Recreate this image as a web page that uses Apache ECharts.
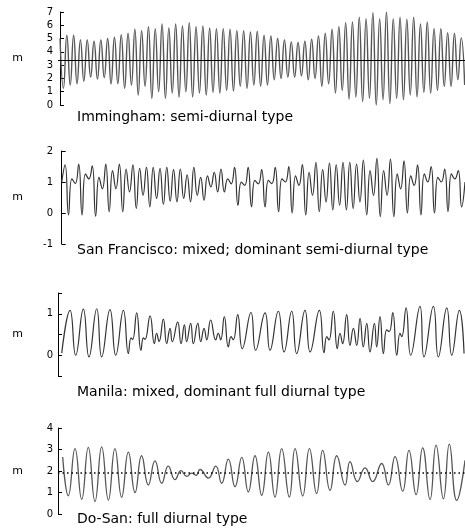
<!DOCTYPE html>
<html><head><meta charset="utf-8">
<script src="https://cdn.jsdelivr.net/npm/echarts@6/dist/echarts.min.js"></script>
<style>html,body{margin:0;padding:0;background:#fff}#c{width:465px;height:530px}</style>
</head><body><div id="c"></div>
<script>
// Immingham: successive high and low waters (m)
const imPeaks = [5.0,5.25,5.25,4.9,4.9,4.8,4.9,5.0,5.1,5.3,5.4,5.7,5.6,5.9,5.75,6.1,5.8,6.1,5.95,6.2,5.9,5.95,5.8,5.75,5.75,5.7,5.6,5.6,5.5,5.55,
  5.25,5.2,5.0,4.9,4.75,4.7,4.8,4.95,5.2,5.4,5.7,5.9,6.2,6.25,6.6,6.5,6.95,6.5,7.0,6.5,6.6,6.45,6.6,6.1,6.25,5.75,5.75,5.45,5.4,5.05];
const imTroughs = [1.25,1.5,1.6,1.8,2.1,1.95,2.05,1.6,1.6,1.25,1.5,0.75,1.4,0.5,1.0,0.5,0.9,0.6,1.0,0.6,0.9,0.75,0.95,0.9,1.1,1.05,1.4,1.25,1.5,1.4,
  1.5,1.9,2.0,2.1,2.1,2.2,1.9,2.0,1.4,1.6,0.9,1.1,0.45,0.6,0.25,0.5,0.0,0.4,0.1,0.5,0.4,0.75,0.6,0.95,0.9,1.1,1.4,1.4,1.9,1.5];
const imMean = 3.4;

// San Francisco: successive turning points (m)
const sfLevels = [1.0,
  1.55,-0.06,1.1,0.95,1.58,-0.06,1.26,1.1,1.52,-0.1,1.15,0.78,1.58,0.04,1.37,0.78,1.58,0.04,1.42,0.68,
  1.55,0.15,1.44,0.57,1.47,0.2,1.47,0.47,1.44,0.28,1.47,0.38,1.4,0.36,1.42,0.47,1.23,0.36,1.47,0.57,
  1.15,0.41,1.2,0.84,1.31,0.68,1.42,0.68,1.1,0.94,1.47,0.25,1.0,0.89,1.47,0.2,1.05,0.94,1.4,0.2,
  1.05,0.95,1.47,0.04,1.1,1.0,1.5,0.0,1.2,0.89,1.56,-0.06,1.31,0.57,1.63,0.04,1.4,0.36,1.61,0.1,
  1.55,0.25,1.63,0.1,1.63,0.15,1.58,0.36,1.71,-0.06,1.37,0.57,1.76,-0.12,1.37,0.57,1.74,-0.12,1.26,0.78,
  1.68,0.0,1.2,0.89,1.55,-0.06,1.26,1.0,1.5,0.0,1.15,1.0,1.42,0.04,1.26,1.1,1.37,0.2,
  1.0];

// Manila: time (days) and level (m) of turning points
const mnDays = [0.28,0.90,1.32,1.89,2.31,2.89,3.26,3.88,4.31,4.88,5.25,5.45,5.57,5.87,6.19,6.37,6.49,6.87,7.19,7.36,
  7.54,7.86,8.11,8.36,8.53,8.93,9.18,9.43,9.60,9.90,10.10,10.43,10.65,10.90,11.10,11.39,11.77,11.96,12.14,12.41,
  12.71,12.91,13.08,13.41,13.75,14.40,14.75,15.45,15.82,16.44,16.87,17.44,17.81,18.43,18.81,19.50,19.85,20.05,20.22,20.54,
  20.84,21.04,21.24,21.54,21.79,22.04,22.29,22.54,22.78,23.04,23.28,23.61,23.78,24.03,24.28,24.53,24.72,24.98,25.28,25.52,
  25.65,25.97,26.32,27.01,27.31,28.01,28.38,29.01,29.38,29.95,30.30];
const mnLevels = [0.05,1.08,0.0,1.11,-0.04,1.12,-0.04,1.10,0.0,1.08,0.04,0.42,0.38,1.02,0.12,0.42,0.38,0.95,0.28,0.53,
  0.33,0.87,0.28,0.65,0.33,0.80,0.28,0.73,0.33,0.77,0.28,0.77,0.33,0.65,0.37,0.85,0.37,0.53,0.37,0.93,
  0.20,0.45,0.37,0.98,0.16,1.03,0.12,1.02,0.12,1.06,0.08,1.06,0.04,1.08,0.08,1.08,0.06,0.45,0.37,1.06,
  0.16,0.53,0.28,0.98,0.24,0.65,0.24,0.89,0.20,0.77,0.08,0.77,0.20,0.93,0.04,0.61,0.57,1.03,0.0,0.53,
  0.45,1.14,0.0,1.18,-0.04,1.18,-0.04,1.14,0.0,1.08,0.04];

// Do-San: time (days) and level (m) of turning points
const dsDays = [0.35,0.77,1.27,1.77,2.26,2.76,3.26,3.76,4.25,4.75,5.25,5.75,6.24,6.74,7.24,7.74,8.23,8.73,9.18,9.60,
  9.98,10.30,10.60,11.22,11.77,12.21,12.71,13.21,13.71,14.20,14.70,15.20,15.70,16.19,16.69,17.26,17.69,18.26,18.76,19.30,
  19.75,20.30,20.80,21.42,21.79,22.34,22.91,23.48,24.15,24.65,25.15,25.72,26.19,26.72,27.21,27.76,28.21,28.76,29.20,29.75,30.37];
const dsLevels = [2.65,0.85,3.04,0.68,3.10,0.58,3.12,0.65,3.04,0.78,2.88,1.0,2.71,1.35,2.47,1.43,2.23,1.6,2.02,1.75,
  1.9,1.8,2.07,1.67,2.23,1.43,2.55,1.27,2.63,1.03,2.71,0.87,2.88,0.79,3.04,0.79,3.04,0.84,3.04,0.95,
  2.96,1.1,2.71,1.35,2.44,1.51,2.15,1.51,2.35,1.35,2.67,1.06,2.96,0.9,3.08,0.67,3.2,0.71,3.25,0.63,2.5];
const dsMean = 1.9;

const titles = ['Immingham: semi-diurnal type','San Francisco: mixed; dominant semi-diurnal type',
  'Manila: mixed, dominant full diurnal type','Do-San: full diurnal type'];

const FONT = 'DejaVu Sans';
const chart = echarts.init(document.getElementById('c'), null, {renderer:'canvas'});

function yAx(gi, min, max, interval, fmt) {
  return {gridIndex: gi, type:'value', min:min, max:max, interval:interval,
    name:'m', nameLocation:'middle', nameRotate:0, nameGap:35,
    nameTextStyle:{fontFamily:FONT, fontSize:11, color:'#000'},
    axisLine:{show:true, lineStyle:{color:'#000', width:1}},
    axisTick:{show:true, inside:true, length:4, lineStyle:{color:'#000', width:1}},
    splitLine:{show:false},
    axisLabel:{fontFamily:FONT, fontSize:10, color:'#000', margin:5, formatter: fmt}};
}
function xAx(gi, min, max) {
  return {gridIndex:gi, type:'value', min:min, max:max, show:false};
}

const imData = [];
imPeaks.forEach((p,i)=>{ imData.push([2*i, p]); imData.push([2*i+1, imTroughs[i]]); });
const sfData = sfLevels.map((v,i)=>[i, v]);
const mnData = mnLevels.map((v,i)=>[mnDays[i], v]);
const dsData = dsLevels.map((v,i)=>[dsDays[i], v]);

const lineSeries = (gi, data, color, width) => ({
  type:'line', xAxisIndex:gi, yAxisIndex:gi, data:data, smooth:0.5, symbol:'none',
  lineStyle:{color:color, width:width}, silent:true, animation:false
});

const option = {
  animation:false,
  grid:[
    {left:58, top:12, width:407, height:93},
    {left:58, top:151, width:407, height:93},
    {left:58, top:293, width:407, height:83},
    {left:58, top:428, width:407, height:86}
  ],
  xAxis:[xAx(0,-0.6,119.1), xAx(1,-1.1,119), xAx(2,0,30.37), xAx(3,0,30.37)],
  yAxis:[
    yAx(0,0,7,1),
    yAx(1,-1,2,1),
    yAx(2,-0.5,1.5,0.5, v => (v===0||v===1) ? String(v) : ''),
    yAx(3,0,4,1)
  ],
  series:[
    Object.assign(lineSeries(0, imData, '#555', 1.4), {
      markLine:{silent:true, symbol:'none', label:{show:false},
        lineStyle:{color:'#000', width:1.2, type:'solid'}, data:[{yAxis:imMean}]}
    }),
    lineSeries(1, sfData, '#333', 1.2),
    lineSeries(2, mnData, '#333', 1.2),
    Object.assign(lineSeries(3, dsData, '#555', 1.3), {
      markLine:{silent:true, symbol:'none', label:{show:false},
        lineStyle:{color:'#000', width:1.5, type:[1.5,3]}, data:[{yAxis:dsMean}]}
    })
  ],
  graphic:[
    {type:'text', left:77, top:110, style:{text:titles[0], font:'14px "DejaVu Sans"', fill:'#000'}},
    {type:'text', left:77, top:243, style:{text:titles[1], font:'14px "DejaVu Sans"', fill:'#000'}},
    {type:'text', left:77, top:385, style:{text:titles[2], font:'14px "DejaVu Sans"', fill:'#000'}},
    {type:'text', left:77, top:512, style:{text:titles[3], font:'14px "DejaVu Sans"', fill:'#000'}}
  ]
};
chart.setOption(option);
</script>
</body></html>
